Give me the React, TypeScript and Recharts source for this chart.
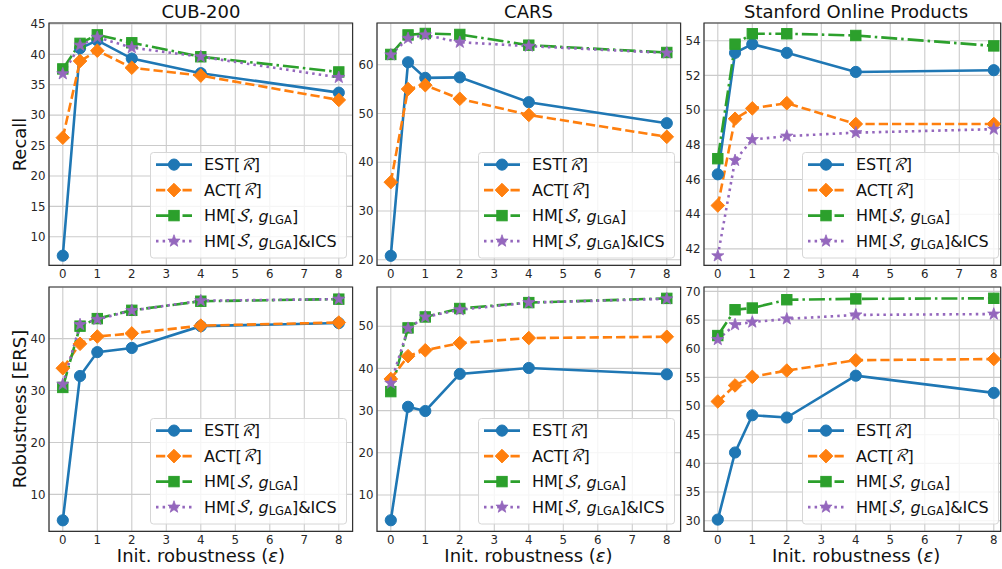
import React from 'react';
import { LineChart, Line, XAxis, YAxis, CartesianGrid, ReferenceArea } from 'recharts';

// ---------- data ----------
const EPS = [0, 0.5, 1, 2, 4, 8];
const X_TICKS = [0, 1, 2, 3, 4, 5, 6, 7, 8];
const TITLES = ['CUB-200', 'CARS', 'Stanford Online Products'];
const ROW_LABELS = ['Recall', 'Robustness [ERS]'];
const X_LABEL = 'Init. robustness (';

const CUB_RECALL_EST = [6.9, 41.0, 42.3, 39.3, 36.9, 33.7];
const CUB_RECALL_ACT = [26.3, 38.9, 40.6, 37.8, 36.5, 32.5];
const CUB_RECALL_HM = [37.6, 41.8, 43.2, 41.9, 39.6, 37.1];
const CUB_RECALL_ICS = [36.8, 41.5, 42.8, 41.1, 39.6, 36.2];

const CARS_RECALL_EST = [20.8, 60.5, 57.3, 57.4, 52.3, 48.0];
const CARS_RECALL_ACT = [35.9, 55.0, 55.8, 53.0, 49.7, 45.2];
const CARS_RECALL_HM = [62.1, 66.1, 66.4, 66.2, 64.0, 62.5];
const CARS_RECALL_ICS = [62.0, 65.4, 66.1, 64.6, 63.8, 62.4];

const SOP_RECALL_EST = [46.3, 53.3, 53.8, 53.3, 52.2, 52.3];
const SOP_RECALL_ACT = [44.5, 49.5, 50.1, 50.4, 49.2, 49.2];
const SOP_RECALL_HM = [47.2, 53.8, 54.4, 54.4, 54.3, 53.7];
const SOP_RECALL_ICS = [41.6, 47.1, 48.3, 48.5, 48.7, 48.9];

const CUB_ROB_EST = [5.0, 32.8, 37.4, 38.2, 42.4, 43.0];
const CUB_ROB_ACT = [34.3, 39.0, 40.4, 41.0, 42.5, 43.1];
const CUB_ROB_HM = [30.6, 42.4, 43.85, 45.45, 47.2, 47.6];
const CUB_ROB_ICS = [31.2, 42.7, 43.7, 45.4, 47.3, 47.6];

const CARS_ROB_EST = [4.0, 30.9, 29.9, 38.7, 40.1, 38.6];
const CARS_ROB_ACT = [37.5, 42.9, 44.3, 46.0, 47.2, 47.5];
const CARS_ROB_HM = [34.5, 49.6, 52.2, 54.2, 55.6, 56.6];
const CARS_ROB_ICS = [36.5, 49.5, 52.2, 53.9, 55.6, 56.5];

const SOP_ROB_EST = [30.2, 41.9, 48.4, 48.0, 55.3, 52.3];
const SOP_ROB_ACT = [50.8, 53.6, 55.1, 56.2, 58.0, 58.2];
const SOP_ROB_HM = [62.3, 66.8, 67.1, 68.55, 68.7, 68.8];
const SOP_ROB_ICS = [61.6, 64.2, 64.65, 65.2, 65.9, 66.05];

const Y_TICKS_CUB_RECALL = [10, 15, 20, 25, 30, 35, 40, 45];
const Y_TICKS_CARS_RECALL = [20, 30, 40, 50, 60];
const Y_TICKS_SOP_RECALL = [42, 44, 46, 48, 50, 52, 54];
const Y_TICKS_CUB_ROB = [10, 20, 30, 40];
const Y_TICKS_CARS_ROB = [10, 20, 30, 40, 50];
const Y_TICKS_SOP_ROB = [30, 35, 40, 45, 50, 55, 60, 65, 70];

// ---------- styles / layout ----------
const FONT = "'DejaVu Sans', sans-serif";
const SERIES = [
  { key: 'est', color: '#1f77b4', dash: undefined as string | undefined, marker: 'circle' },
  { key: 'act', color: '#ff7f0e', dash: '9.25 4', marker: 'diamond' },
  { key: 'hm', color: '#2ca02c', dash: '16 4 2.5 4', marker: 'square' },
  { key: 'ics', color: '#9467bd', dash: '2.5 4.1', marker: 'star' },
];

const COL_LEFT = [49.2, 376.7, 704.3];
const COL_W = [303.6, 303.6, 296.7];
const COL_XMAX = [8.4, 8.4, 8.2];
const LEG_RIGHT = [347.3, 675.0, 999.3];
const ROW_TOP = [23.3, 286.8];
const PLOT_H = [242.4, 244.4];
const YAXIS_W = 45;
const M_TOP = 5;
const M_RIGHT = 5;
const XAXIS_H = 30;

function buildRows(est: number[], act: number[], hm: number[], ics: number[]) {
  return EPS.map((x, i) => ({ x, est: est[i], act: act[i], hm: hm[i], ics: ics[i] }));
}

const PANELS = [
  { row: 0, col: 0, data: buildRows(CUB_RECALL_EST, CUB_RECALL_ACT, CUB_RECALL_HM, CUB_RECALL_ICS), domain: [5.3, 45.15], ticks: Y_TICKS_CUB_RECALL },
  { row: 0, col: 1, data: buildRows(CARS_RECALL_EST, CARS_RECALL_ACT, CARS_RECALL_HM, CARS_RECALL_ICS), domain: [18.83, 68.55], ticks: Y_TICKS_CARS_RECALL },
  { row: 0, col: 2, data: buildRows(SOP_RECALL_EST, SOP_RECALL_ACT, SOP_RECALL_HM, SOP_RECALL_ICS), domain: [41.05, 55.02], ticks: Y_TICKS_SOP_RECALL },
  { row: 1, col: 0, data: buildRows(CUB_ROB_EST, CUB_ROB_ACT, CUB_ROB_HM, CUB_ROB_ICS), domain: [2.87, 49.94], ticks: Y_TICKS_CUB_ROB },
  { row: 1, col: 1, data: buildRows(CARS_ROB_EST, CARS_ROB_ACT, CARS_ROB_HM, CARS_ROB_ICS), domain: [1.36, 59.3], ticks: Y_TICKS_CARS_ROB },
  { row: 1, col: 2, data: buildRows(SOP_ROB_EST, SOP_ROB_ACT, SOP_ROB_HM, SOP_ROB_ICS), domain: [28.14, 70.77], ticks: Y_TICKS_SOP_ROB },
];

function Marker({ kind, cx, cy, color }: { kind: string; cx: number; cy: number; color: string }) {
  if (cx == null || cy == null) return null;
  if (kind === 'circle') return <circle cx={cx} cy={cy} r={5.6} fill={color} stroke={color} strokeWidth={1} />;
  if (kind === 'diamond') {
    const s = 6.8;
    return <polygon points={`${cx},${cy - s} ${cx + s},${cy} ${cx},${cy + s} ${cx - s},${cy}`} fill={color} stroke={color} strokeWidth={1} />;
  }
  if (kind === 'square') {
    const s = 5.2;
    return <rect x={cx - s} y={cy - s} width={2 * s} height={2 * s} fill={color} stroke={color} strokeWidth={1} />;
  }
  const R = 6.4;
  const r = R * 0.4;
  const pts: string[] = [];
  for (let i = 0; i < 10; i++) {
    const rad = i % 2 === 0 ? R : r;
    const a = -Math.PI / 2 + (i * Math.PI) / 5;
    pts.push(`${cx + rad * Math.cos(a)},${cy + rad * Math.sin(a)}`);
  }
  return <polygon points={pts.join(' ')} fill={color} stroke={color} strokeWidth={0.8} />;
}

const tickStyle = { fontSize: 11.8, fill: '#262626', fontFamily: FONT };

function Panel({ p }: { p: typeof PANELS[number] }) {
  const left = COL_LEFT[p.col] - YAXIS_W;
  const top = ROW_TOP[p.row] - M_TOP;
  const h = PLOT_H[p.row];
  const w = COL_W[p.col];
  const xmax = COL_XMAX[p.col];
  return (
    <div style={{ position: 'absolute', left, top }}>
      <LineChart
        width={YAXIS_W + w + M_RIGHT}
        height={M_TOP + h + XAXIS_H}
        data={p.data}
        margin={{ top: M_TOP, right: M_RIGHT, bottom: 0, left: 0 }}
      >
        <CartesianGrid stroke="#cbcbcb" strokeWidth={1.1} />
        <XAxis
          dataKey="x"
          type="number"
          domain={[-0.4, xmax]}
          ticks={X_TICKS}
          interval={0}
          allowDataOverflow
          height={XAXIS_H}
          axisLine={false}
          tickLine={false}
          tickSize={2}
          tickMargin={2}
          tick={tickStyle}
        />
        <YAxis
          type="number"
          domain={p.domain}
          ticks={p.ticks}
          interval={0}
          allowDataOverflow
          width={YAXIS_W}
          axisLine={false}
          tickLine={false}
          tickSize={2}
          tickMargin={1.5}
          tick={tickStyle}
        />
        {SERIES.map((s) => (
          <Line
            key={s.key}
            type="linear"
            dataKey={s.key}
            stroke={s.color}
            strokeWidth={2.6}
            strokeDasharray={s.dash}
            isAnimationActive={false}
            activeDot={false}
            dot={(dp: any) => <Marker key={`${s.key}-${dp.index}`} kind={s.marker} cx={dp.cx} cy={dp.cy} color={s.color} />}
          />
        ))}
        <ReferenceArea
          x1={-0.4}
          x2={xmax}
          y1={p.domain[0]}
          y2={p.domain[1]}
          fill="none"
          fillOpacity={0}
          stroke="#333"
          strokeWidth={1.2}
          ifOverflow="visible"
        />
      </LineChart>
    </div>
  );
}

const CAL_FONT = "'DejaVu Math TeX Gyre', 'DejaVu Serif', serif";

function LegendLabel({ idx, x, y }: { idx: number; x: number; y: number }) {
  const common = { x, y, fontSize: 16, fontFamily: FONT, fill: '#111', dominantBaseline: 'central' as const };
  if (idx === 0 || idx === 1) {
    return (
      <text {...common}>
        {idx === 0 ? 'EST[' : 'ACT['}
        <tspan fontFamily={CAL_FONT} fontStyle="italic">ℛ</tspan>]
      </text>
    );
  }
  return (
    <text {...common}>
      HM[<tspan fontFamily={CAL_FONT} fontStyle="italic">𝒮</tspan>, <tspan fontStyle="italic">g</tspan>
      <tspan fontSize={11.5} dy={4}>LGA</tspan>
      <tspan dy={-4}>]{idx === 3 ? '&ICS' : ''}</tspan>
    </text>
  );
}

const LEG_W = 197;
const LEG_H = 106.5;

function LegendBox({ col, row }: { col: number; row: number }) {
  const right = LEG_RIGHT[col];
  const bottom = ROW_TOP[row] + PLOT_H[row] - 7;
  return (
    <svg
      width={LEG_W}
      height={LEG_H}
      style={{ position: 'absolute', left: right - LEG_W, top: bottom - LEG_H, overflow: 'visible' }}
    >
      <rect x={0.5} y={0.5} width={LEG_W - 1} height={LEG_H - 1} rx={3} fill="#fff" fillOpacity={0.8} stroke="#d6d6d6" strokeWidth={1} />
      {SERIES.map((s, i) => {
        const cy = 12.6 + i * 25.5;
        return (
          <g key={s.key}>
            <line x1={6} x2={42} y1={cy} y2={cy} stroke={s.color} strokeWidth={2.6} strokeDasharray={s.dash} />
            <Marker kind={s.marker} cx={24} cy={cy} color={s.color} />
            <LegendLabel idx={i} x={54} y={cy} />
          </g>
        );
      })}
    </svg>
  );
}

export default function App() {
  return (
    <div style={{ position: 'absolute', left: 0, top: 0, width: 1002, height: 569, overflow: 'hidden', background: '#fff', fontFamily: FONT }}>
      {PANELS.map((p, i) => (
        <Panel key={i} p={p} />
      ))}
      <svg width={1002} height={569} style={{ position: 'absolute', left: 0, top: 0, pointerEvents: 'none' }}>
        {TITLES.map((t, c) => (
          <text key={t} x={COL_LEFT[c] + (c === 2 ? 303.6 : COL_W[c]) / 2} y={18.3} textAnchor="middle" fontSize={18} fontFamily={FONT} fill="#111">
            {t}
          </text>
        ))}
        {ROW_LABELS.map((t, r) => {
          const cy = ROW_TOP[r] + PLOT_H[r] / 2;
          return (
            <text key={t} x={25.5} y={cy} transform={`rotate(-90 25.5 ${cy})`} textAnchor="middle" fontSize={18} fontFamily={FONT} fill="#111">
              {t}
            </text>
          );
        })}
        {COL_LEFT.map((l, c) => (
          <text key={c} x={l + (c === 2 ? 303.6 : COL_W[c]) / 2} y={562} textAnchor="middle" fontSize={18} fontFamily={FONT} fill="#111">
            {X_LABEL}
            <tspan fontStyle="italic">ε</tspan>)
          </text>
        ))}
      </svg>
      {PANELS.map((p, i) => (
        <LegendBox key={`l${i}`} col={p.col} row={p.row} />
      ))}
    </div>
  );
}
